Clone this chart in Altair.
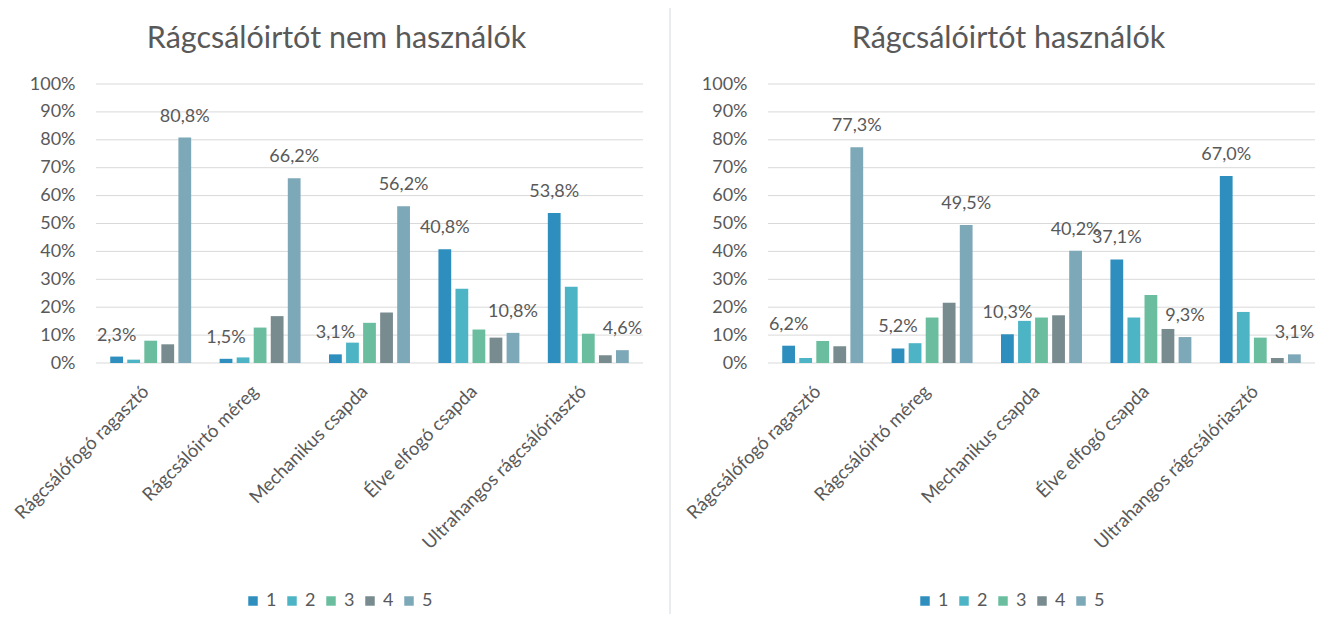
import altair as alt
import pandas as pd

categories = ["Rágcsálófogó ragasztó", "Rágcsálóirtó méreg", "Mechanikus csapda",
              "Élve elfogó csapda", "Ultrahangos rágcsálóriasztó"]
series = ["1", "2", "3", "4", "5"]
labelled_series = ["1", "5"]

# Rágcsálóirtót nem használók (percent)
nem_1 = [2.3, 1.5, 3.1, 40.8, 53.8]
nem_2 = [1.2, 2.0, 7.3, 26.6, 27.3]
nem_3 = [8.0, 12.7, 14.4, 12.0, 10.5]
nem_4 = [6.7, 16.8, 18.1, 9.1, 2.8]
nem_5 = [80.8, 66.2, 56.2, 10.8, 4.6]

# Rágcsálóirtót használók (percent)
has_1 = [6.2, 5.2, 10.3, 37.1, 67.0]
has_2 = [1.8, 7.1, 15.1, 16.3, 18.3]
has_3 = [7.9, 16.3, 16.3, 24.4, 9.1]
has_4 = [6.0, 21.6, 17.1, 12.2, 1.8]
has_5 = [77.3, 49.5, 40.2, 9.3, 3.1]

titles = ["Rágcsálóirtót nem használók", "Rágcsálóirtót használók"]
y_ticks = [0, 0.1, 0.2, 0.3, 0.4, 0.5, 0.6, 0.7, 0.8, 0.9, 1.0]
colors = ["#2E8EBE", "#4DB4C5", "#6ABE9F", "#788B8F", "#7DA8B7"]

FONT = "Lato"
TXT = "#595959"
PLOT_W, PLOT_H = 547, 279


def make_df(series_lists):
    rows = []
    for s, arr in zip(series, series_lists):
        for c, v in zip(categories, arr):
            rows.append({"cat": c, "series": s, "value": v / 100.0})
    return pd.DataFrame(rows)


Y_AXIS = alt.Axis(title=None, values=y_ticks, format=".0%", domain=False,
                  ticks=False, labelPadding=21, labelFontSize=18,
                  labelFont=FONT, labelColor=TXT, grid=False,
                  labelOverlap=False, labelFlush=False, zindex=1)
Y_SCALE = alt.Scale(domain=[0, 1], nice=False)


def panel(series_lists, title, bg_x0, bg_x1):
    df = make_df(series_lists)
    bg = alt.Chart(pd.DataFrame({"k": [0]})).mark_rect(color="white").encode(
        x=alt.value(bg_x0), x2=alt.value(bg_x1), y=alt.value(-76), y2=alt.value(530)
    )
    grid = alt.Chart(pd.DataFrame({"t": y_ticks})).mark_rule(
        color="#D9D9D9", strokeWidth=1
    ).encode(y=alt.Y("t:Q", scale=Y_SCALE, axis=Y_AXIS))
    x = alt.X("cat:N", sort=categories,
              scale=alt.Scale(paddingInner=0.26, paddingOuter=0.13),
              axis=alt.Axis(title=None, labelAngle=-45, labelAlign="right",
                            labelBaseline="middle", labelPadding=25, labelOffset=-5,
                            labelFontSize=18.5, labelFont=FONT, labelColor=TXT,
                            labelLimit=400, domain=False, ticks=False, grid=False,
                            labelOverlap=False, zindex=1))
    xo = alt.XOffset("series:N", sort=series,
                     scale=alt.Scale(paddingInner=0.25, paddingOuter=0))
    y = alt.Y("value:Q", scale=Y_SCALE, axis=Y_AXIS)
    color = alt.Color("series:N", sort=series,
                      scale=alt.Scale(domain=series, range=colors),
                      legend=alt.Legend(orient="none", legendX=148, legendY=508,
                                        direction="horizontal", title=None,
                                        symbolType="square", symbolSize=90,
                                        symbolStrokeWidth=0, labelFontSize=18,
                                        labelFont=FONT, labelColor=TXT,
                                        columnPadding=6, labelOffset=4))
    bars = alt.Chart(df).mark_bar().encode(x=x, xOffset=xo, y=y, color=color)
    labels = alt.Chart(df).transform_filter(
        alt.FieldOneOfPredicate(field="series", oneOf=labelled_series)
    ).transform_calculate(
        lab="replace(format(datum.value, '.1%'), '.', ',')"
    ).mark_text(baseline="alphabetic", dy=-16, fontSize=18, font=FONT, color=TXT).encode(
        x=alt.X("cat:N", sort=categories), xOffset=alt.XOffset("series:N", sort=series),
        y=alt.Y("value:Q", scale=Y_SCALE, axis=Y_AXIS), text="lab:N"
    )
    return alt.layer(bg, grid, bars, labels).properties(
        width=PLOT_W, height=PLOT_H,
        title=alt.TitleParams(title, fontSize=30.5, font=FONT, color=TXT,
                              fontWeight="normal", anchor="middle", frame="group",
                              dx=-33, offset=-46),
    )


left = panel([nem_1, nem_2, nem_3, nem_4, nem_5], titles[0], -88, 573)
right = panel([has_1, has_2, has_3, has_4, has_5], titles[1], -97, 555)

chart = alt.hconcat(left, right, spacing=2).resolve_scale(
    x="independent", y="independent", color="independent", xOffset="independent"
).resolve_legend(color="independent").properties(
    padding=0, background="#E9EDF0"
).configure_view(stroke=None)

chart.save("out.html", embed_options={"renderer": "svg", "actions": False})
